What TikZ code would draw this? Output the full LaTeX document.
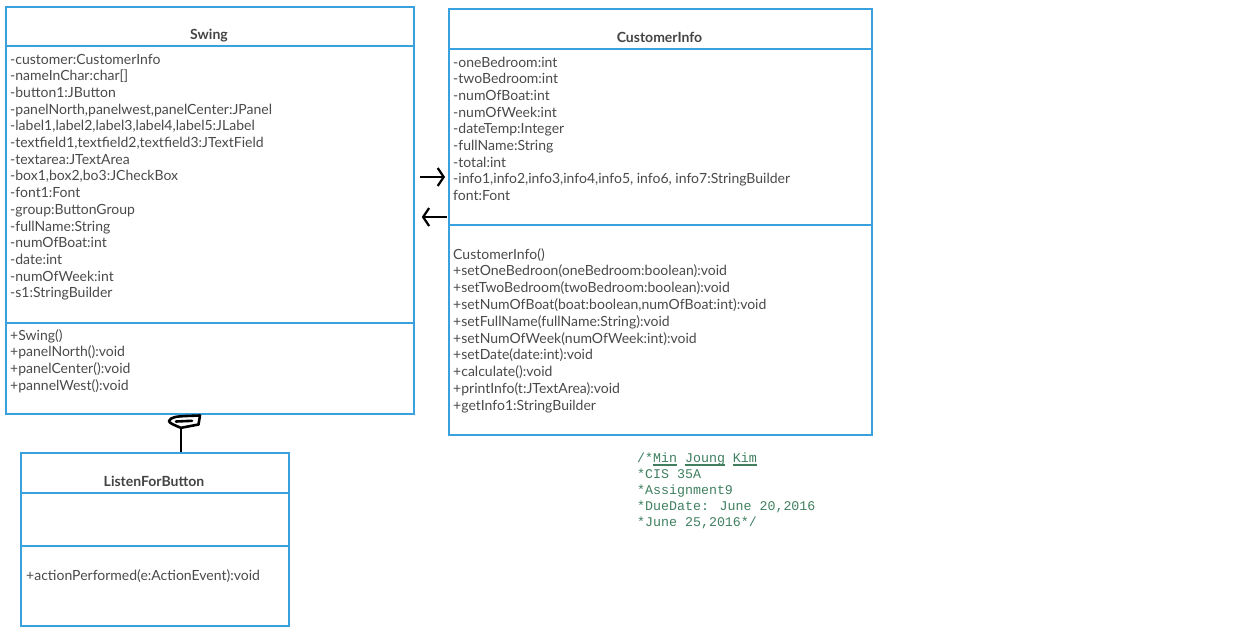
\documentclass[tikz,border=0pt]{standalone}
\usepackage{fontspec}
\setmainfont{Lato}
\newfontfamily\codefont{Liberation Mono}
\usetikzlibrary{calc,arrows.meta}
\definecolor{umlblue}{HTML}{38A1DE}
\definecolor{umltext}{HTML}{4A4A4A}
\definecolor{umltitle}{HTML}{444444}
\definecolor{commentgreen}{HTML}{3F7F5F}
\begin{document}
\begin{tikzpicture}[x=1pt,y=-1pt,
  umlbox/.style={draw=umlblue,line width=1.8pt,fill=white,rectangle,anchor=north west,inner sep=0pt},
  divider/.style={draw=umlblue,line width=1.8pt},
  member/.style={anchor=base west,inner sep=0pt,text=umltext,font=\fontsize{14}{16}\selectfont},
  title/.style={anchor=base,inner sep=0pt,text=umltitle,font=\fontsize{14}{16}\selectfont\bfseries},
  comment/.style={anchor=base west,inner sep=0pt,text=commentgreen,font=\codefont\fontsize{13.3}{16}\selectfont},
  link/.style={line width=2.6pt,black},
  barb/.style={line width=2.2pt,black,-{Straight Barb[length=6pt,width=18pt,line width=2.2pt]}}
]
\useasboundingbox (0,0) rectangle (1233,643);

% ---------------- Swing ----------------
\node[umlbox,minimum width=408pt,minimum height=407pt] (swing) at (5,6) {};
\draw[divider] (swing.west |- 0,46) -- (swing.east |- 0,46);
\draw[divider] (swing.west |- 0,323) -- (swing.east |- 0,323);
\node[title] (swingtitle) at (209,39) {Swing};
\foreach \t [count=\i from 0] in {
  -customer:CustomerInfo,
  {-nameInChar:char[]},
  -button1:JButton,
  {-panelNorth,panelwest,panelCenter:JPanel},
  {-label1,label2,label3,label4,label5:JLabel},
  {-textfield1,textfield2,textfield3:JTextField},
  -textarea:JTextArea,
  {-box1,box2,bo3:JCheckBox},
  -font1:Font,
  -group:ButtonGroup,
  -fullName:String,
  -numOfBoat:int,
  -date:int,
  -numOfWeek:int,
  -s1:StringBuilder}
  \node[member] (swa\i) at (10,64+\i*16.7) {\t};
\foreach \t [count=\i from 0] in {
  +Swing(),
  +panelNorth():void,
  +panelCenter():void,
  +pannelWest():void}
  \node[member] (swm\i) at (10,340+\i*16.7) {\t};

% ---------------- CustomerInfo ----------------
\node[umlbox,minimum width=423pt,minimum height=426pt] (cust) at (448,8) {};
\draw[divider] (cust.west |- 0,49) -- (cust.east |- 0,49);
\draw[divider] (cust.west |- 0,225) -- (cust.east |- 0,225);
\node[title] (custtitle) at (659.5,42) {CustomerInfo};
\foreach \t [count=\i from 0] in {
  -oneBedroom:int,
  -twoBedroom:int,
  -numOfBoat:int,
  -numOfWeek:int,
  -dateTemp:Integer,
  -fullName:String,
  -total:int,
  {-info1,info2,info3,info4,info5, info6, info7:StringBuilder},
  font:Font}
  \node[member] (cua\i) at (453,67+\i*16.7) {\t};
\foreach \t [count=\i from 0] in {
  CustomerInfo(),
  +setOneBedroon(oneBedroom:boolean):void,
  +setTwoBedroom(twoBedroom:boolean):void,
  {+setNumOfBoat(boat:boolean,numOfBoat:int):void},
  +setFullName(fullName:String):void,
  +setNumOfWeek(numOfWeek:int):void,
  +setDate(date:int):void,
  +calculate():void,
  +printInfo(t:JTextArea):void,
  +getInfo1:StringBuilder}
  \node[member] (cum\i) at (453,259+\i*16.8) {\t};

% ---------------- ListenForButton ----------------
\node[umlbox,minimum width=268pt,minimum height=173pt] (listen) at (20,452) {};
\draw[divider] (listen.west |- 0,493) -- (listen.east |- 0,493);
\draw[divider] (listen.west |- 0,546) -- (listen.east |- 0,546);
\node[title] (listentitle) at (154,486) {ListenForButton};
\node[member] (lfm0) at (26,580) {+actionPerformed(e:ActionEvent):void};

% ---------------- connectors ----------------
\coordinate (tipS) at ($(swing.south -| 181,0)+(0,13)$);
\draw[link] (listen.north -| 181,0) -- (tipS);
\draw[link,line join=round,line cap=round]
  (tipS) .. controls (174,425) and (169,423) .. (169,421)
  .. controls (171,417) and (176,416.5) .. (186,416)
  -- (200,415.5) -- (198.5,424.5) -- (tipS);
\draw[link,line cap=round] (176,421.5) -- (192,420.8);

\draw[barb] ($(swing.east |- 0,177)+(5,0)$) -- ($(cust.west |- 0,177)+(-3,0)$);
\draw[barb] ($(cust.west |- 0,217)+(-1,0)$) -- ($(swing.east |- 0,217)+(7,0)$);

% ---------------- header comment ----------------
\foreach \t [count=\i from 0] in {
  /*Min Joung Kim,
  *CIS 35A,
  *Assignment9,
  {*DueDate: June 20,2016},
  {*June 25,2016*/}}
  \node[comment] (cm\i) at (637,462.5+\i*16) {\t};
\foreach \a/\b in {653/677,685/725,733/757}
  \draw[commentgreen,line width=1.2pt] (\a,465) -- (\b,465);
\end{tikzpicture}
\end{document}
